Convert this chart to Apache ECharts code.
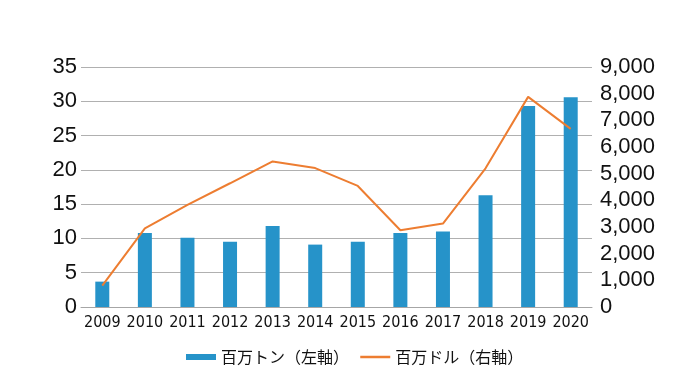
<!DOCTYPE html>
<html lang="ja">
  <head>
    <meta charset="UTF-8">
    <title>百万トン・百万ドル</title>
    <script src="https://cdn.jsdelivr.net/npm/echarts@6/dist/echarts.min.js"></script>
    <style>
      html, body { margin: 0; padding: 0; background: #fff; }
    </style>
  </head>
  <body>
    <div id="main" style="width: 681px;height:376px;"></div>
    <script type="text/javascript">
      // データ
      var years = ['2009', '2010', '2011', '2012', '2013', '2014', '2015', '2016', '2017', '2018', '2019', '2020'];
      var tons = [3.7, 10.8, 10.1, 9.5, 11.8, 9.1, 9.5, 10.8, 11.0, 16.3, 29.3, 30.6];
      var dollars = [800, 2950, 3830, 4640, 5460, 5210, 4540, 2880, 3130, 5200, 7880, 6680];
      var tonName = '百万トン（左軸）';
      var dollarName = '百万ドル（右軸）';

      var myChart = echarts.init(document.getElementById('main'));

      var option = {
        animation: false,
        grid: { left: 81, right: 89, top: 67, bottom: 69 },
        legend: {
          left: 181,
          top: 344,
          itemGap: 10,
          itemWidth: 30,
          itemHeight: 6,
          textStyle: { fontFamily: 'Noto Sans CJK JP', fontSize: 16, color: '#111' },
          data: [
            { name: tonName, icon: 'rect' },
            { name: dollarName, itemStyle: { opacity: 0 }, lineStyle: { width: 2.5 } }
          ]
        },
        xAxis: {
          type: 'category',
          data: years,
          axisTick: { show: false },
          axisLine: { lineStyle: { color: '#a6a6a6', width: 1 } },
          axisLabel: {
            interval: 0,
            margin: 8,
            fontFamily: "'DejaVu Sans Condensed', 'Liberation Sans'",
            fontSize: 16,
            color: '#111'
          }
        },
        yAxis: [
          {
            type: 'value',
            min: 0,
            max: 35,
            interval: 5,
            axisLine: { show: false },
            axisTick: { show: false },
            splitLine: { lineStyle: { color: '#b0b0b0', width: 1 } },
            axisLabel: {
              margin: 4,
              padding: [8, 0, 0, 0],
              fontFamily: 'Liberation Sans',
              fontSize: 22,
              color: '#111'
            }
          },
          {
            type: 'value',
            min: 0,
            max: 9000,
            interval: 1000,
            axisLine: { show: false },
            axisTick: { show: false },
            splitLine: { show: false },
            axisLabel: {
              margin: 8,
              fontFamily: 'Liberation Sans',
              fontSize: 22,
              color: '#111',
              formatter: function (v) { return v.toLocaleString('en-US'); }
            }
          }
        ],
        series: [
          {
            name: tonName,
            type: 'bar',
            data: tons,
            barWidth: 14,
            itemStyle: { color: '#2693c9' }
          },
          {
            name: dollarName,
            type: 'line',
            yAxisIndex: 1,
            data: dollars,
            symbol: 'none',
            lineStyle: { color: '#ed7d31', width: 2 },
            itemStyle: { color: '#ed7d31' }
          }
        ]
      };

      myChart.setOption(option);
    </script>
  </body>
</html>
